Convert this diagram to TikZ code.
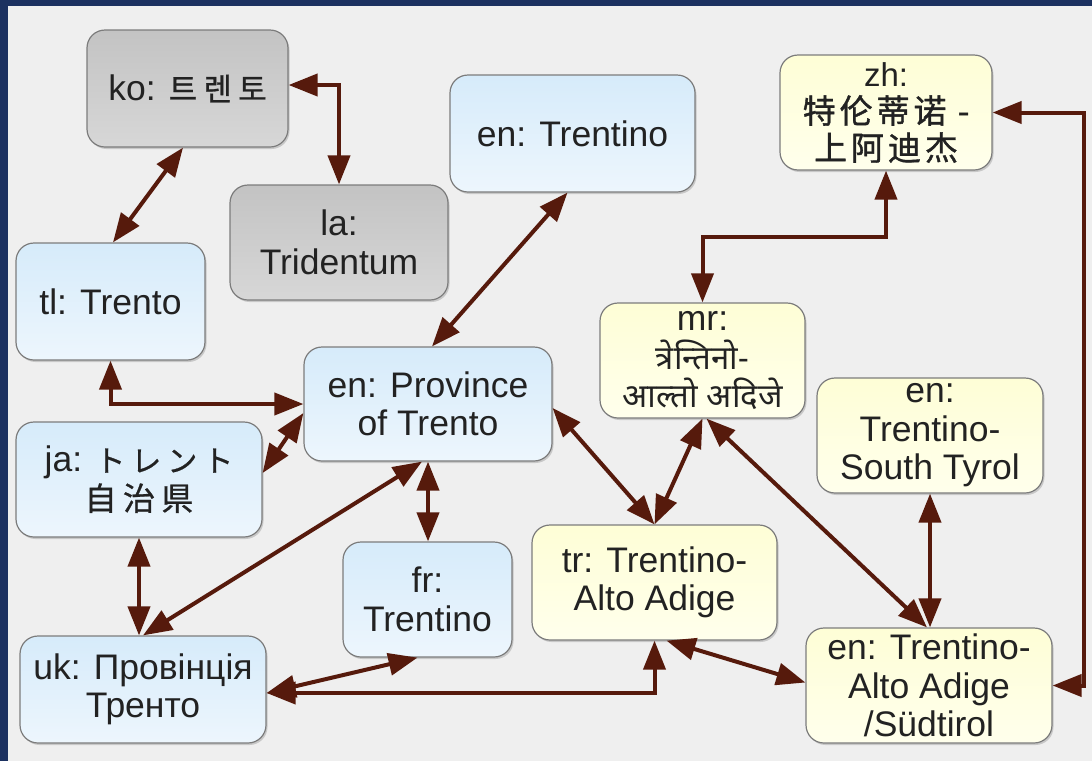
\documentclass[tikz,border=0pt]{standalone}
\usepackage{fontspec}
\setmainfont{Liberation Sans}
\newfontfamily\kofont[LetterSpace=20,FakeBold=0.8]{Noto Sans CJK KR}
\newfontfamily\jafont[LetterSpace=20,FakeBold=0.8]{Noto Sans CJK JP}
\newfontfamily\zhfont[LetterSpace=12,FakeBold=1.2]{Noto Sans CJK SC}
\newfontfamily\mrfont[Script=Devanagari]{Noto Sans}
\usetikzlibrary{arrows.meta,shadows}
\definecolor{wikiframe}{HTML}{1C3160}
\definecolor{wikipaper}{HTML}{EFEFEF}
\definecolor{wikiedge}{HTML}{7C7C7C}
\definecolor{wikiink}{HTML}{222222}
\definecolor{wikilink}{HTML}{561A0C}
\definecolor{wikigreyA}{HTML}{C3C3C3}
\definecolor{wikigreyB}{HTML}{D7D7D7}
\definecolor{wikiblueA}{HTML}{D6EBFA}
\definecolor{wikiblueB}{HTML}{EDF6FD}
\definecolor{wikiyellowA}{HTML}{FEFED6}
\definecolor{wikiyellowB}{HTML}{FFFFEC}

\begin{document}
\begin{tikzpicture}[x=1pt,y=-1pt,
  card/.style={draw=wikiedge,line width=1.2pt,rounded corners=18pt,align=center,
              text=wikiink,font=\fontsize{35.5}{38.5}\selectfont,inner sep=0pt,
              drop shadow={shadow xshift=1.5pt,shadow yshift=-2pt,opacity=0.35}},
  old/.style={card,top color=wikigreyA,bottom color=wikigreyB},
  local/.style={card,top color=wikiblueA,bottom color=wikiblueB},
  region/.style={card,top color=wikiyellowA,bottom color=wikiyellowB},
  link/.style={{Triangle[length=29pt,width=22pt]}-{Triangle[length=29pt,width=22pt]},
              line width=4pt,wikilink}]
  \useasboundingbox (0,0) rectangle (1092,761);
  \fill[wikipaper] (0,0) rectangle (1092,761);
  \fill[wikiframe] (0,0) rectangle (1092,6);
  \fill[wikiframe] (0,0) rectangle (8,761);
  \node[old,minimum width=201pt,minimum height=117pt] (ko) at (187.5,88.5)
       {ko: {\kofont\fontsize{31}{38}\selectfont 트렌토}};
  \node[old,minimum width=218pt,minimum height=115pt] (la) at (339,242.5)
       {la:\\Tridentum};
  \node[local,minimum width=245pt,minimum height=117pt] (enT) at (572.5,133.5)
       {en: Trentino};
  \node[region,minimum width=212pt,minimum height=115pt,
        font=\fontsize{33}{37}\selectfont] (zh) at (886,112.5)
       {zh:\\{\zhfont 特伦蒂诺 -}\\{\zhfont 上阿迪杰}};
  \node[local,minimum width=189pt,minimum height=117pt] (tl) at (110.5,301.5)
       {tl: Trento};
  \node[local,minimum width=248pt,minimum height=114pt] (prov) at (428,404)
       {en: Province\\of Trento};
  \node[local,minimum width=246pt,minimum height=115pt] (ja) at (139,479.5)
       {ja: {\jafont\fontsize{30}{38}\selectfont トレント}\\
        {\jafont\fontsize{32}{38}\selectfont 自治県}};
  \node[region,minimum width=205pt,minimum height=115pt] (mr) at (702.5,360.5)
       {mr:\\{\mrfont\fontsize{33}{38}\selectfont त्रेन्तिनो-}\\
        {\mrfont\fontsize{33}{38}\selectfont आल्तो अदिजे}};
  \node[region,minimum width=226pt,minimum height=115pt] (enST) at (930,435.5)
       {en:\\Trentino-\\South Tyrol};
  \node[local,minimum width=169pt,minimum height=115pt] (fr) at (427.5,599.5)
       {fr:\\Trentino};
  \node[region,minimum width=245pt,minimum height=115pt] (tr) at (654.5,582.5)
       {tr: Trentino-\\Alto Adige};
  \node[local,minimum width=246pt,minimum height=107pt] (uk) at (143,689.5)
       {uk: Провінція\\Тренто};
  \node[region,minimum width=246pt,minimum height=115pt] (enAA) at (929,685.5)
       {en: Trentino-\\Alto Adige\\/Südtirol};
  \draw[link] ([xshift=-4.5pt]ko.south) -- ([xshift=2.5pt]tl.north);
  \draw[link] ([yshift=3.5pt]ko.east) -| (la.north);
  \draw[link] ([xshift=-5pt]enT.south) -- ([xshift=4pt]prov.north);
  \draw[link] (tl.south) |- (prov.west);
  \draw[link] ([yshift=6.5pt]ja.east) -- ([yshift=-9pt]prov.west);
  \draw[link] (prov.south) -- (prov.south |- fr.north);
  \draw[link] ([xshift=-6pt]prov.south) -- (uk.north);
  \draw[link] (ja.south) -- (ja.south |- uk.north);
  \draw[link] ([yshift=-3.5pt]uk.east) -- ([xshift=-10pt]fr.south);
  \draw[link] ([yshift=-3.5pt]uk.east) -| (tr.south);
  \draw[link] ([yshift=-4pt]prov.east) -- (tr.north);
  \draw[link] (mr.south) -- (tr.north);
  \draw[link] (mr.north) -- ++(0,-65) -| (zh.south);
  \draw[link] ([xshift=4pt]mr.south) -- ([xshift=-2pt]enAA.north);
  \draw[link] (enST.south) -- (enST.south |- enAA.north);
  \draw[link] ([xshift=12pt]tr.south) -- ([yshift=3pt]enAA.west);
  \draw[link] (enAA.east) -- ++(31,0) |- (zh.east);
\end{tikzpicture}
\end{document}
